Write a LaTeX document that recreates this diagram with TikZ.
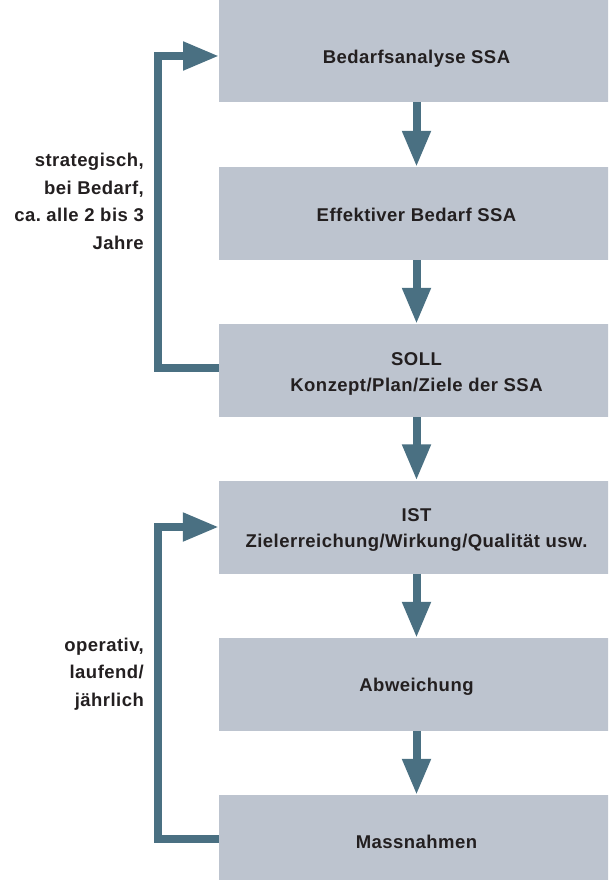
\documentclass[tikz,border=0pt]{standalone}
\usepackage{fontspec}
\setmainfont{Liberation Sans}[LetterSpace=2.5]
\usetikzlibrary{arrows.meta}
\definecolor{boxfill}{RGB}{189,196,207}
\definecolor{flowblue}{RGB}{74,112,130}
\definecolor{ink}{RGB}{35,31,32}
\frenchspacing
\begin{document}
\begin{tikzpicture}[x=1pt,y=-1pt,
  stage/.style={fill=boxfill, minimum width=395pt, minimum height=93pt,
    inner sep=0pt, text=ink, align=center, text depth=0pt,
    font=\fontsize{18.5}{26.7}\selectfont\bfseries},
  flow/.style={draw=flowblue, line width=8pt,
    -{Triangle[length=36pt,width=27pt]}},
  feedback/.style={flow, line join=miter},
  note/.style={text=ink, align=right, anchor=east, inner sep=0pt,
    font=\fontsize{18.5}{27.5}\selectfont\bfseries}]
\useasboundingbox (0,0) rectangle (608,880);
\clip (0,0) rectangle (608,880);

% process stages (text height sets where the baseline sits in each box)
\node[stage, minimum height=112pt, text height=36pt] (b1) at (416.5,46) {Bedarfsanalyse SSA};
\node[stage, text height=15pt] (b2) at (416.5,213.5) {Effektiver Bedarf SSA};
\node[stage, text height=42.4pt] (b3) at (416.5,370.5) {SOLL\\Konzept/Plan/Ziele der SSA};
\node[stage, text height=41.4pt] (b4) at (416.5,527) {IST\\Zielerreichung/Wirkung/Qualität usw.};
\node[stage, text height=13pt] (b5) at (416.5,684.5) {Abweichung};
\node[stage, minimum height=95pt, text height=11pt] (b6) at (416.5,842.5) {Massnahmen};

% downward flow
\draw[flow] (b1) -- (b2);
\draw[flow] (b2) -- (b3);
\draw[flow] (b3) -- (b4);
\draw[flow] (b4) -- (b5);
\draw[flow] (b5) -- (b6);

% feedback loops on the left
\coordinate (xl) at (158,0);
\coordinate (t1) at (219,56);
\coordinate (s3) at ([yshift=2.5pt]b3.west);
\coordinate (s6) at ([yshift=3.5pt]b6.west);
\draw[feedback] (s3) -- (s3 -| xl) -- (t1 -| xl) -- (t1);
\draw[feedback] (s6) -- (s6 -| xl) -- (b4.west -| xl) -- (b4.west);

% loop labels
\node[note] (n1) at (144,201.5) {strategisch,\\bei Bedarf,\\ca.\ alle 2 bis 3\\Jahre};
\node[note] (n2) at (144,674) {operativ,\\laufend/\\jährlich};
\end{tikzpicture}
\end{document}
